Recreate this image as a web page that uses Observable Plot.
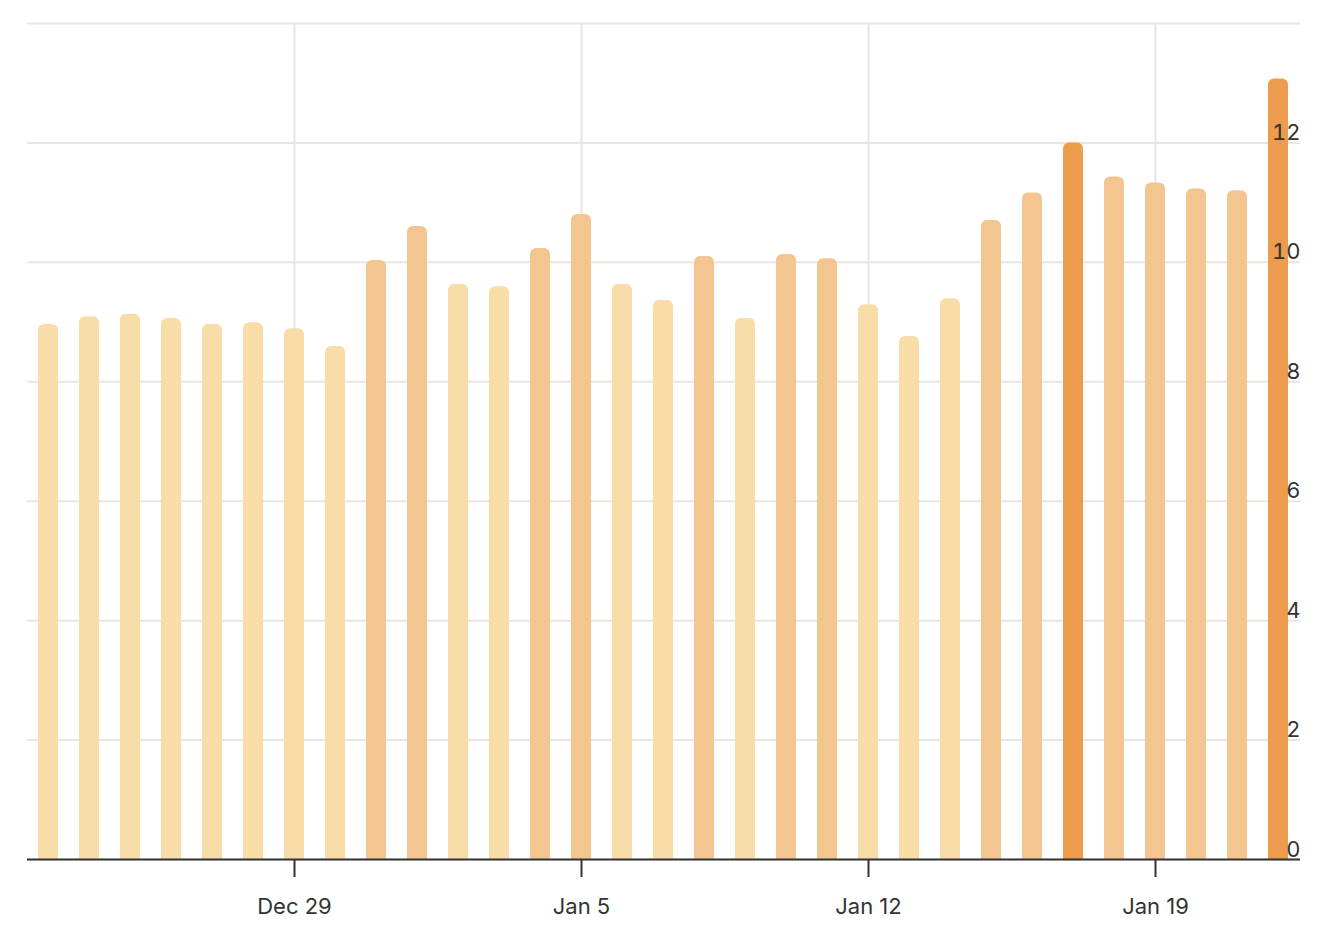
<!DOCTYPE html>
<html>
<head>
<meta charset="utf-8">
<script src="https://cdn.jsdelivr.net/npm/d3@7"></script>
<script src="https://cdn.jsdelivr.net/npm/@observablehq/plot@0.6"></script>
<style>
  html, body { margin: 0; padding: 0; background: #fff; }
  #chart svg { display: block; }
</style>
</head>
<body>
<div id="chart"></div>
<script>
const dates = [
  "2023-12-23","2023-12-24","2023-12-25","2023-12-26","2023-12-27","2023-12-28","2023-12-29",
  "2023-12-30","2023-12-31","2024-01-01","2024-01-02","2024-01-03","2024-01-04","2024-01-05",
  "2024-01-06","2024-01-07","2024-01-08","2024-01-09","2024-01-10","2024-01-11","2024-01-12",
  "2024-01-13","2024-01-14","2024-01-15","2024-01-16","2024-01-17","2024-01-18","2024-01-19",
  "2024-01-20","2024-01-21","2024-01-22"
];
const values = [
  8.96, 9.09, 9.13, 9.06, 8.96, 8.99, 8.89,
  8.59, 10.03, 10.6, 9.63, 9.59, 10.23, 10.8,
  9.63, 9.36, 10.1, 9.06, 10.13, 10.06, 9.29,
  8.76, 9.39, 10.7, 11.16, 12.0, 11.43, 11.33,
  11.23, 11.2, 13.07
];
const xTickDates = ["2023-12-29", "2024-01-05", "2024-01-12", "2024-01-19"];
const yGridTicks = [0, 2, 4, 6, 8, 10, 12, 14];
const yLabelTicks = [0, 2, 4, 6, 8, 10, 12];
const colorThresholds = [10, 12];
const colorRange = ["#f8dda8", "#f3c590", "#ec9c4c"];

const data = dates.map((d, i) => ({date: new Date(d), value: values[i]}));
const xTicks = xTickDates.map(d => new Date(d));

const chart = Plot.plot({
  width: 1322,
  height: 932,
  marginLeft: 27,
  marginRight: 22,
  marginTop: 23,
  marginBottom: 73,
  style: {fontFamily: "Inter, sans-serif", fontSize: "22px", color: "#333", background: "#fff"},
  x: {type: "band", domain: data.map(d => d.date), paddingInner: 0.51, paddingOuter: 0.23},
  y: {domain: [0, 14]},
  color: {type: "threshold", domain: colorThresholds, range: colorRange},
  marks: [
    Plot.gridY({ticks: yGridTicks, stroke: "#e9e5e2", strokeOpacity: 1, strokeWidth: 2}),
    Plot.gridX({ticks: xTicks, stroke: "#e9e5e2", strokeOpacity: 1, strokeWidth: 2}),
    Plot.barY(data, {x: "date", y: "value", fill: "value", ry1: 6}),
    Plot.ruleY([0], {stroke: "#333", strokeWidth: 2}),
    Plot.axisX({ticks: xTicks, tickFormat: d3.utcFormat("%b %-d"), tickSize: 18, tickPadding: 21, stroke: "#333", strokeWidth: 2, fill: "#333", label: null}),
    Plot.axisY({ticks: yLabelTicks, anchor: "right", tickSize: 0, tickPadding: 0, textAnchor: "end", dy: -10, fill: "#333", label: null})
  ]
});
document.getElementById("chart").appendChild(chart);
</script>
</body>
</html>
